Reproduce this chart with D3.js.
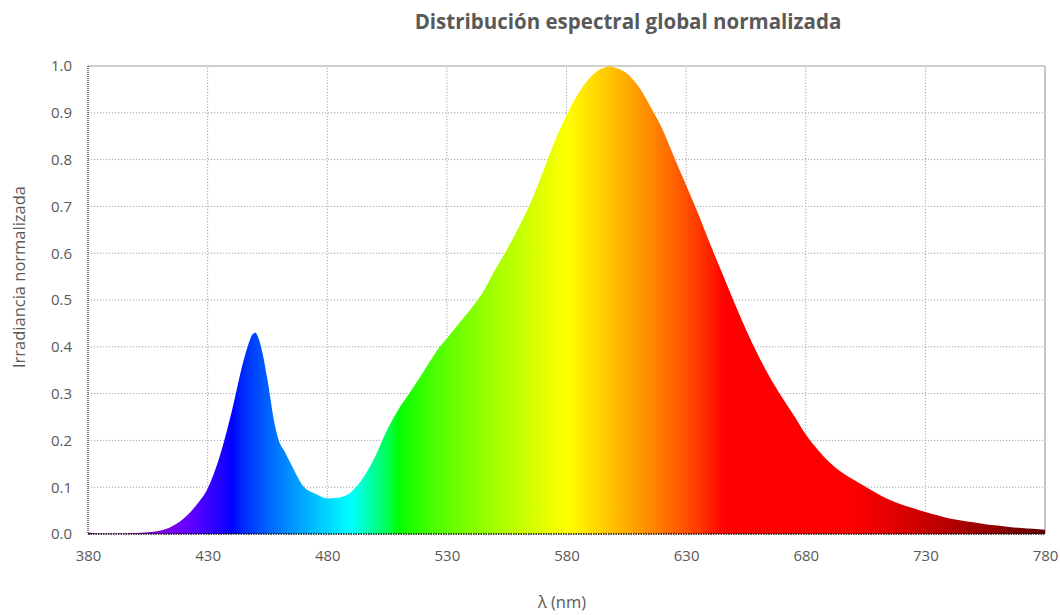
<!DOCTYPE html>
<html>
<head>
<meta charset="utf-8">
<script src="https://cdn.jsdelivr.net/npm/d3@7/dist/d3.min.js"></script>
<style>
  html, body { margin: 0; padding: 0; background: #fff; }
  svg { display: block; }
  text { font-family: "Open Sans", "DejaVu Sans", sans-serif; }
</style>
</head>
<body>
<svg id="chart" width="1060" height="615"></svg>
<script>
// ---- Data ----
const wavelengths = [380, 385, 390, 395, 400, 405, 410, 415, 420, 425, 430, 435, 440, 445, 447, 449, 450, 451, 453, 455, 458, 460, 462, 465, 470, 475, 480, 485, 490, 495, 500, 505, 510, 515, 520, 525, 527, 530, 535, 540, 545, 550, 555, 560, 565, 570, 575, 580, 585, 590, 595, 598, 600, 605, 610, 615, 620, 625, 630, 635, 640, 645, 650, 655, 660, 665, 670, 675, 680, 685, 690, 695, 700, 705, 710, 715, 720, 725, 730, 735, 740, 745, 750, 755, 760, 765, 770, 775, 780];
const irradiance  = [0.003, 0.001, 0.001, 0.001, 0.002, 0.004, 0.007, 0.016, 0.033, 0.06, 0.097, 0.165, 0.26, 0.37, 0.405, 0.428, 0.43, 0.422, 0.385, 0.33, 0.235, 0.196, 0.178, 0.148, 0.102, 0.086, 0.076, 0.078, 0.09, 0.12, 0.165, 0.222, 0.268, 0.306, 0.345, 0.385, 0.4, 0.418, 0.45, 0.481, 0.516, 0.563, 0.607, 0.655, 0.708, 0.772, 0.838, 0.895, 0.942, 0.976, 0.995, 0.999, 0.997, 0.985, 0.957, 0.914, 0.866, 0.805, 0.745, 0.685, 0.62, 0.558, 0.496, 0.437, 0.383, 0.335, 0.293, 0.254, 0.213, 0.18, 0.153, 0.132, 0.116, 0.101, 0.086, 0.073, 0.063, 0.055, 0.047, 0.040, 0.033, 0.029, 0.025, 0.021, 0.018, 0.015, 0.013, 0.011, 0.009];
const xTicks = [380, 430, 480, 530, 580, 630, 680, 730, 780];
const yTicks = [0.0, 0.1, 0.2, 0.3, 0.4, 0.5, 0.6, 0.7, 0.8, 0.9, 1.0];
const titleText = "Distribución espectral global normalizada";
const xLabel = "λ (nm)";
const yLabel = "Irradiancia normalizada";

// ---- Layout ----
const svg = d3.select("#chart");
const margin = { left: 88, right: 15, top: 66, bottom: 81 };
const W = 1060, H = 615;
const x = d3.scaleLinear().domain([380, 780]).range([margin.left, W - margin.right]);
const y = d3.scaleLinear().domain([0, 1]).range([H - margin.bottom, margin.top]);

// spectral colour of a wavelength (Bruton approximation)
function spectral(w) {
  let r = 0, g = 0, b = 0;
  if (w < 440) { r = -(w - 440) / 60; b = 1; }
  else if (w < 490) { g = (w - 440) / 50; b = 1; }
  else if (w < 510) { g = 1; b = -(w - 510) / 20; }
  else if (w < 580) { r = (w - 510) / 70; g = 1; }
  else if (w < 645) { r = 1; g = -(w - 645) / 65; }
  else { r = 1; }
  let f = 1;
  if (w < 420) f = 0.3 + 0.7 * (w - 380) / 40;
  else if (w > 700) f = 0.3 + 0.7 * (780 - w) / 80;
  const c = v => Math.round(255 * Math.pow(v * f, 0.8));
  return d3.rgb(c(r), c(g), c(b)).toString();
}

const defs = svg.append("defs");
const grad = defs.append("linearGradient")
  .attr("id", "spec")
  .attr("gradientUnits", "userSpaceOnUse")
  .attr("x1", x(380)).attr("x2", x(780)).attr("y1", 0).attr("y2", 0);
d3.range(380, 781, 2).forEach(w => {
  grad.append("stop")
    .attr("offset", (w - 380) / 400)
    .attr("stop-color", spectral(w));
});

// gridlines
const grid = svg.append("g");
grid.selectAll("line.h").data(yTicks.filter(v => v > 0 && v < 1)).enter()
  .append("line")
  .attr("x1", x(380)).attr("x2", x(780))
  .attr("y1", d => y(d)).attr("y2", d => y(d))
  .attr("stroke", "#a6a6a6").attr("stroke-width", 1)
  .attr("stroke-dasharray", "1.2,1.8");
grid.selectAll("line.v").data(xTicks.filter(v => v > 380 && v < 780)).enter()
  .append("line")
  .attr("x1", d => x(d)).attr("x2", d => x(d))
  .attr("y1", y(0)).attr("y2", y(1))
  .attr("stroke", "#a6a6a6").attr("stroke-width", 1)
  .attr("stroke-dasharray", "1.2,1.8");

// top and right border (solid)
svg.append("line").attr("x1", x(380)).attr("x2", x(780)).attr("y1", y(1)).attr("y2", y(1))
  .attr("stroke", "#a0a0a0").attr("stroke-width", 1.2);
svg.append("line").attr("x1", x(780)).attr("x2", x(780)).attr("y1", y(1)).attr("y2", y(0))
  .attr("stroke", "#a0a0a0").attr("stroke-width", 1.2);

// area
const pts = wavelengths.map((w, i) => [w, irradiance[i]]);
const area = d3.area()
  .x(d => x(d[0]))
  .y0(y(0))
  .y1(d => y(d[1]))
  .curve(d3.curveMonotoneX);
svg.append("path").datum(pts)
  .attr("d", area)
  .attr("fill", "url(#spec)");

// axes lines (dotted)
svg.append("line").attr("x1", x(380)).attr("x2", x(380)).attr("y1", y(1)).attr("y2", y(0))
  .attr("stroke", "#555").attr("stroke-width", 1.5).attr("stroke-dasharray", "1,1");
svg.append("line").attr("x1", x(380)).attr("x2", x(780)).attr("y1", y(0)).attr("y2", y(0))
  .attr("stroke", "#111").attr("stroke-width", 1.5).attr("stroke-dasharray", "1.5,1");

// axes via d3
const xAxis = d3.axisBottom(x).tickValues(xTicks).tickSize(0).tickPadding(16).tickFormat(d3.format("d"));
const yAxis = d3.axisLeft(y).tickValues(yTicks).tickSize(0).tickPadding(16).tickFormat(d3.format(".1f"));
const gx = svg.append("g").attr("transform", `translate(0,${y(0)})`).call(xAxis);
const gy = svg.append("g").attr("transform", `translate(${x(380)},0)`).call(yAxis);
[gx, gy].forEach(g => {
  g.select(".domain").remove();
  g.selectAll("text").attr("fill", "#595959").style("font-size", "15px")
    .style("font-family", '"Open Sans", sans-serif');
});

// title
svg.append("text")
  .attr("x", 628).attr("y", 29)
  .attr("text-anchor", "middle")
  .attr("fill", "#595959")
  .style("font-size", "20.5px").style("font-weight", "bold")
  .text(titleText);

// axis titles
svg.append("text")
  .attr("x", 562).attr("y", 608)
  .attr("text-anchor", "middle")
  .attr("fill", "#595959")
  .style("font-size", "16.5px")
  .text(xLabel);
svg.append("text")
  .attr("transform", "translate(25,277) rotate(-90)")
  .attr("text-anchor", "middle")
  .attr("fill", "#595959")
  .style("font-size", "16.5px")
  .text(yLabel);
</script>
</body>
</html>
